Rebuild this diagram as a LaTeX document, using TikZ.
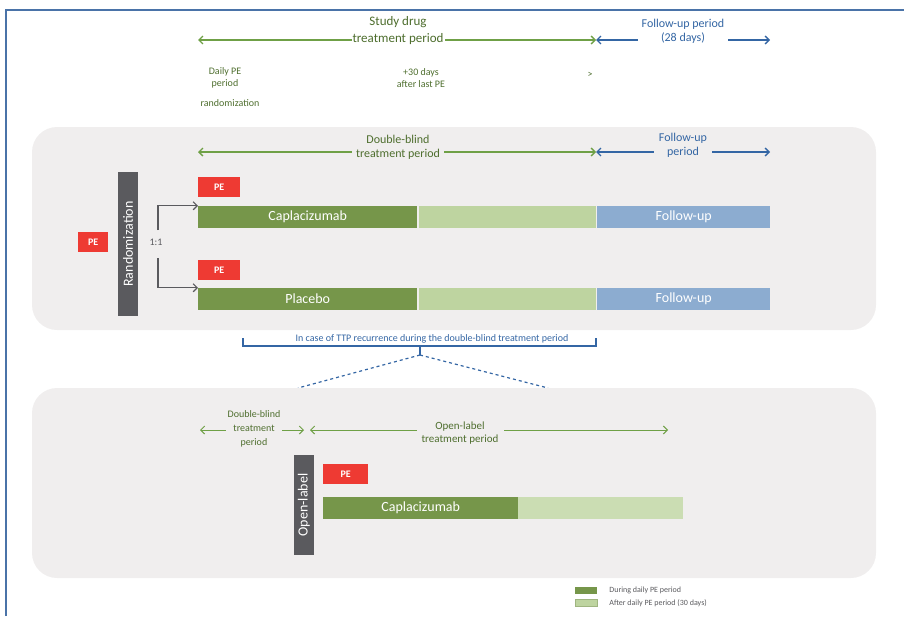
\documentclass[tikz,border=0pt]{standalone}
\usepackage{fontspec}
\setmainfont{Carlito}
\usetikzlibrary{arrows.meta}
\definecolor{framblue}{HTML}{4A73A8}
\definecolor{panelgray}{HTML}{F0EEEE}
\definecolor{armgreen}{HTML}{76964A}
\definecolor{lightgreen}{HTML}{BED4A0}
\definecolor{fupblue}{HTML}{8CACD0}
\definecolor{pered}{HTML}{EE3A33}
\definecolor{boxgray}{HTML}{5A5A5E}
\definecolor{linegreen}{HTML}{6FA046}
\definecolor{lineblue}{HTML}{3466A4}
\definecolor{txtgreen}{HTML}{4E6E2E}

\begin{document}
\begin{tikzpicture}[x=1pt,y=-1pt,
  bar/.style={minimum height=22, inner sep=0pt, anchor=west, text=white, font=\fontsize{14}{16}\selectfont},
  pebox/.style={fill=pered, text=white, minimum height=20, inner sep=0pt, anchor=west, font=\fontsize{10}{12}\selectfont\bfseries},
  vbox/.style={fill=boxgray, text=white, rotate=90, minimum height=20, inner sep=0pt, font=\fontsize{14}{16}\selectfont},
  garrow/.style={linegreen, line width=1.3, {Straight Barb[length=4pt]}-{Straight Barb[length=4pt]}},
  barrow/.style={lineblue, line width=1.3, {Straight Barb[length=4pt]}-{Straight Barb[length=4pt]}},
  gtext/.style={text=txtgreen, align=center, font=\fontsize{12}{14}\selectfont, inner sep=1pt},
  btext/.style={text=lineblue, align=center, font=\fontsize{12}{14}\selectfont, inner sep=1pt}]
  \useasboundingbox (0,0) rectangle (904,616);

  % frame
  \draw[framblue, line width=1.3] (6,616) -- (6,10) -- (904,10);

  % top timeline
  \coordinate (studyL) at (198,40);
  \coordinate (studyR) at (596,40);
  \coordinate (fupR) at (770,40);
  \draw[garrow] (studyL) -- (studyR);
  \draw[barrow] (studyR) -- (fupR);
  \node[gtext, fill=white, font=\fontsize{13}{17}\selectfont] (study) at (398,31) {Study drug\\treatment period};
  \node[btext, fill=white, inner sep=4pt] (fup) at (683,31) {Follow-up period\\(28 days)};
  \node[gtext, font=\fontsize{10}{12}\selectfont] (peend) at (225,78) {Daily PE\\period};
  \node[gtext, font=\fontsize{10}{12}\selectfont] (randlbl) at (230,103) {randomization};
  \node[gtext, font=\fontsize{10}{12}\selectfont] (lastpe) at (421,78) {+30 days\\after last PE};
  \node[gtext, font=\fontsize{10}{12}\selectfont] (gt) at (590,75) {>};

  % double-blind panel
  \fill[panelgray, rounded corners=25] (32,127) rectangle (876,330);
  \coordinate (dbL) at (198,152);
  \coordinate (dbR) at (596,152);
  \coordinate (dbfR) at (770,152);
  \draw[garrow] (dbL) -- (dbR);
  \draw[barrow] (dbR) -- (dbfR);
  \node[gtext, fill=panelgray, inner sep=4pt] (db) at (398,147) {Double-blind\\treatment period};
  \node[btext, fill=panelgray, inner sep=5pt] (dbf) at (683,145) {Follow-up\\period};

  \node[pebox, minimum width=30] (pe0) at (78,242) {PE};
  \node[vbox, minimum width=144] (rand) at (128,244) {Randomization};
  \node[font=\fontsize{10}{12}\selectfont, text=boxgray] (ratio) at (156,242) {1:1};
  \coordinate (upS) at (158,230);
  \coordinate (dnS) at (158,258);

  \node[pebox, minimum width=42] (pe1) at (198,187) {PE};
  \node[bar, fill=armgreen, minimum width=219] (cap) at (198,217) {Caplacizumab};
  \node[bar, fill=lightgreen, minimum width=177] (capb) at (419,217) {};
  \node[bar, fill=fupblue, minimum width=173] (capf) at (597,217) {Follow-up};

  \node[pebox, minimum width=42] (pe2) at (198,270) {PE};
  \node[bar, fill=armgreen, minimum width=219] (pla) at (198,299) {Placebo};
  \node[bar, fill=lightgreen, minimum width=177] (plab) at (419,299) {};
  \node[bar, fill=fupblue, minimum width=173] (plaf) at (597,299) {Follow-up};

  \draw[boxgray, line width=1.2, -{Straight Barb[length=4pt]}] (upS) |- (cap.north west);
  \draw[boxgray, line width=1.2, -{Straight Barb[length=4pt]}] (dnS) |- (pla.north west);

  % bracket
  \coordinate (brL) at (243,338);
  \coordinate (brR) at (596,338);
  \coordinate (brM) at (420,346);
  \coordinate (brT) at (420,355);
  \coordinate (dashL) at (298,388);
  \coordinate (dashR) at (548,388);
  \draw[lineblue, line width=1.6] (brL) -- (243,346) -- (596,346) -- (brR);
  \draw[lineblue, line width=1.6] (brM) -- (brT);
  \node[btext, font=\fontsize{10}{12}\selectfont] (recur) at (432,339) {In case of TTP recurrence during the double-blind treatment period};
  \draw[lineblue, line width=1.2, dashed] (brT) -- (dashL);
  \draw[lineblue, line width=1.2, dashed] (brT) -- (dashR);

  % open-label panel
  \fill[panelgray, rounded corners=25] (32,388) rectangle (876,578);
  \coordinate (olA) at (200,430);
  \coordinate (olB) at (304,430);
  \coordinate (olC) at (310,430);
  \coordinate (olD) at (668,430);
  \draw[garrow, line width=1] (olA) -- (olB);
  \draw[garrow, line width=1] (olC) -- (olD);
  \node[gtext, fill=panelgray, font=\fontsize{10}{14}\selectfont, inner sep=2pt] (dbrest) at (254,429) {Double-blind\\treatment\\period};
  \node[gtext, fill=panelgray, font=\fontsize{11}{13}\selectfont, inner sep=5pt] (oltp) at (460,433) {Open-label\\treatment period};

  \node[vbox, minimum width=100] (ol) at (304,505) {Open-label};
  \node[pebox, minimum width=45] (pe3) at (323,474) {PE};
  \node[bar, fill=armgreen, minimum width=195] (olcap) at (323,508) {Caplacizumab};
  \node[bar, fill=lightgreen!80!white, minimum width=165] (olcapb) at (518,508) {};

  % legend
  \node[fill=armgreen, minimum width=22, minimum height=7, inner sep=0pt] (leg1) at (586,590) {};
  \node[fill=lightgreen, draw=armgreen!70, minimum width=22, minimum height=7, inner sep=0pt] (leg2) at (586,603) {};
  \node[font=\fontsize{8}{10}\selectfont, text=boxgray, inner sep=0pt, anchor=west] (leg1t) at ([xshift=12pt]leg1.east) {During daily PE period};
  \node[font=\fontsize{8}{10}\selectfont, text=boxgray, inner sep=0pt, anchor=west] (leg2t) at ([xshift=12pt]leg2.east) {After daily PE period (30 days)};
\end{tikzpicture}
\end{document}
